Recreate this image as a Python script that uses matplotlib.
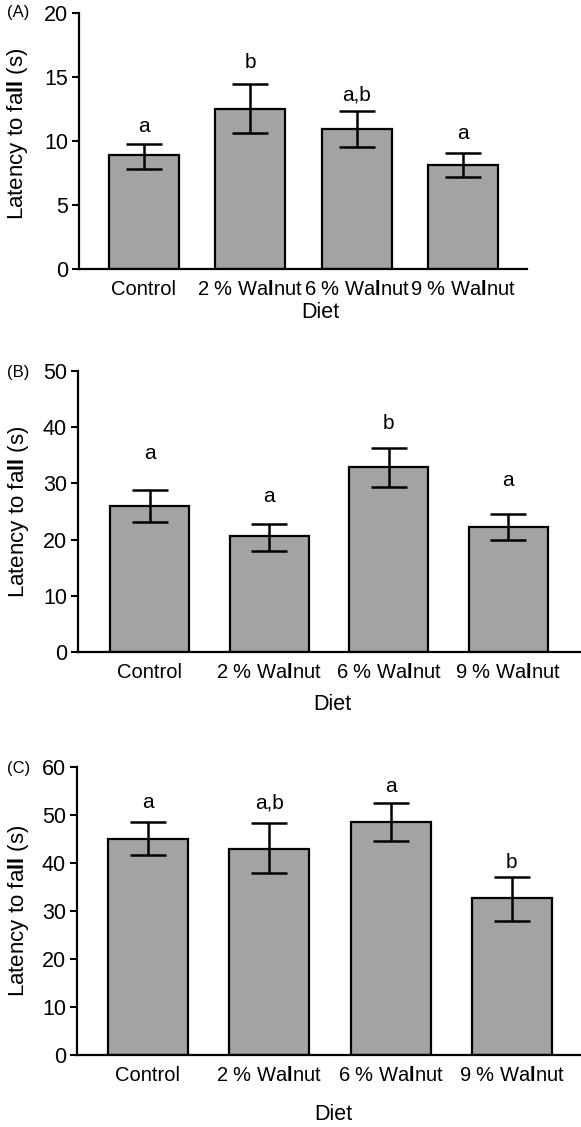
import numpy as np
import matplotlib
matplotlib.use("Agg")
import matplotlib.pyplot as plt

plt.rcParams["font.family"] = ["Liberation Sans", "DejaVu Sans"]
plt.rcParams["mathtext.fontset"] = "custom"
plt.rcParams["mathtext.rm"] = "Liberation Sans"
plt.rcParams["mathtext.bf"] = "Liberation Sans:bold"

# ---- data ----
diets = ["Control", "2 % Wa$\\mathbf{l}$nut", "6 % Wa$\\mathbf{l}$nut", "9 % Wa$\\mathbf{l}$nut"]

a_mean = [8.9, 12.5, 10.9, 8.15]
a_hi = [9.8, 14.45, 12.35, 9.1]
a_lo = [7.85, 10.6, 9.5, 7.2]
a_letters = ["a", "b", "a,b", "a"]
a_letter_y = [11.1, 16.1, 13.6, 10.6]

b_mean = [26.0, 20.6, 33.0, 22.2]
b_hi = [28.8, 22.8, 36.3, 24.6]
b_lo = [23.1, 17.9, 29.3, 20.0]
b_letters = ["a", "a", "b", "a"]
b_letter_y = [35.3, 27.7, 40.7, 30.5]

c_mean = [45.0, 42.9, 48.6, 32.8]
c_hi = [48.5, 48.3, 52.5, 37.1]
c_lo = [41.6, 37.9, 44.6, 28.0]
c_letters = ["a", "a,b", "a", "b"]
c_letter_y = [52.5, 52.5, 56.0, 40.0]

W, H = 581, 1127
fig = plt.figure(figsize=(W / 100, H / 100), dpi=100)

BAR = "#a3a3a3"
FS = 14.5

panels = [
    # (tag, mean, hi, lo, letters, letter_y, ymax, step, [l, r, top, bottom] px, xlim, tag y px, ylabel pos, diet x, diet pad)
    ("(A)", a_mean, a_hi, a_lo, a_letters, a_letter_y, 20, 5, (79, 527, 13, 269), (-0.61, 3.6), 13, (-0.109, 0.53), 320, 43),
    ("(B)", b_mean, b_hi, b_lo, b_letters, b_letter_y, 50, 10, (78, 581, 371, 652), (-0.6, 3.61), 372, (-0.093, 0.5), 332, 53),
    ("(C)", c_mean, c_hi, c_lo, c_letters, c_letter_y, 60, 10, (77, 581, 767, 1055), (-0.585, 3.57), 769, (-0.091, 0.5), 333, 60),
]

for tag, mean, hi, lo, letters, ly, ymax, step, box, xlim, tag_y, ylab, diet_x, dpad in panels:
    l, r, t, b = box
    ax = fig.add_axes([l / W, 1 - b / H, (r - l) / W, (b - t) / H])
    x = np.arange(len(mean))
    mean = np.array(mean)
    err = [mean - np.array(lo), np.array(hi) - mean]
    ax.bar(x, mean, width=0.66, color=BAR, edgecolor="black", linewidth=1.6, zorder=2)
    ax.errorbar(x, mean, yerr=err, fmt="none", ecolor="black", elinewidth=1.8,
                capsize=13, capthick=1.8, zorder=3)
    for xi, s, yy in zip(x, letters, ly):
        ax.text(xi, yy, s, ha="center", va="center", fontsize=FS + 0.5)

    ax.set_xlim(*xlim)
    ax.set_ylim(0, ymax)
    ax.set_yticks(np.arange(0, ymax + 1, step))
    ax.set_xticks(x)
    ax.set_xticklabels(diets, fontsize=FS)
    ax.tick_params(axis="x", length=0, pad=8)
    ax.tick_params(axis="y", length=5, width=1.5, labelsize=FS + 1, pad=3)
    for s in ["top", "right"]:
        ax.spines[s].set_visible(False)
    for s in ["left", "bottom"]:
        ax.spines[s].set_linewidth(1.6)

    ax.set_ylabel("Latency to fa$\\mathbf{ll}$ (s)", fontsize=FS + 1.5)
    ax.yaxis.set_label_coords(*ylab)
    fig.text(diet_x / W, 1 - (b + dpad) / H, "Diet", ha="center", va="center", fontsize=FS + 1)
    fig.text(7 / W, 1 - tag_y / H, tag, ha="left", va="center", fontsize=12)

fig.savefig("out.png", dpi=100)
